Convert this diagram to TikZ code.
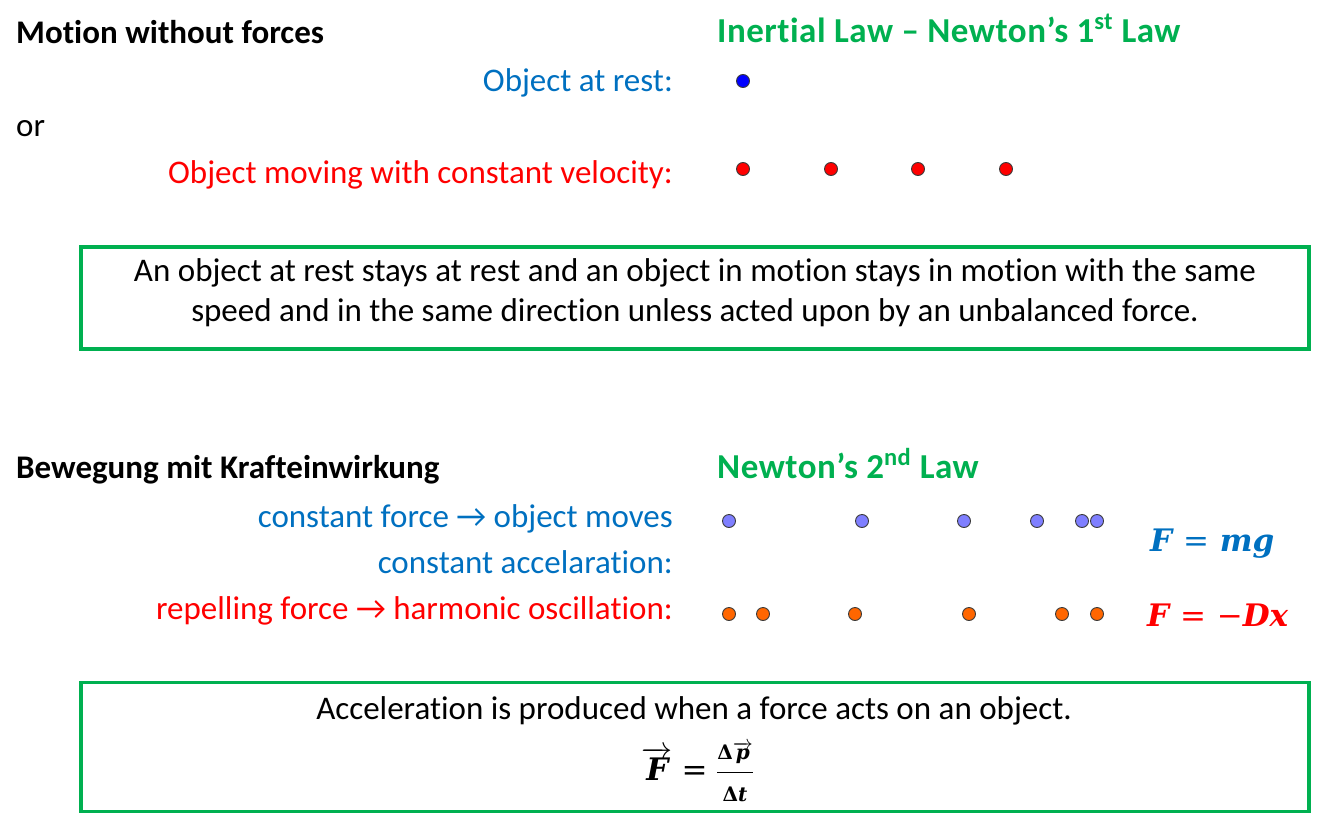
\RequirePackage{fix-cm}
\documentclass[tikz,border=0pt]{standalone}
\usepackage{fontspec}
\setmainfont{Carlito}[Ligatures={NoCommon,NoContextual,NoRequired}, RawFeature={-liga;-clig;-dlig;-calt}]
\newfontfamily\titlefont{Carlito}[Ligatures={NoCommon,NoContextual,NoRequired}, RawFeature={-liga;-clig;-dlig;-calt}, LetterSpace=1.5]
\newfontfamily\mathserif{DejaVu Serif}
\definecolor{lawgreen}{HTML}{00B050}
\definecolor{msblue}{HTML}{0070C0}
\definecolor{msred}{HTML}{FF0000}
\definecolor{dotpurple}{HTML}{7F7FFF}
\definecolor{dotorange}{HTML}{FF6600}
\definecolor{dotblue}{HTML}{0000FF}
\definecolor{dotedge}{HTML}{3A3A3A}
\begin{document}
\begin{tikzpicture}[x=1pt,y=-1pt,
  txt/.style={inner sep=0pt, font=\fontsize{33}{40}\selectfont},
  lefttxt/.style={txt, anchor=base west},
  righttxt/.style={txt, anchor=base east},
  heading/.style={inner sep=0pt, anchor=base west, font=\fontsize{33}{40}\selectfont\bfseries},
  lawtitle/.style={inner sep=0pt, anchor=base west, text=lawgreen, font=\fontsize{35}{42}\selectfont\titlefont\bfseries},
  formula/.style={inner sep=0pt, anchor=base west, font=\fontsize{31}{36}\selectfont\mathserif\bfseries\itshape},
  lawbox/.style={draw=lawgreen, line width=3.3pt, inner sep=0pt},
  ball/.style={circle, draw=dotedge, line width=0.9pt, minimum size=13pt, inner sep=0pt},
  restball/.style={ball, fill=dotblue},
  redball/.style={ball, fill=msred},
  purpleball/.style={ball, fill=dotpurple},
  orangeball/.style={ball, fill=dotorange}]
\useasboundingbox (0,0) rectangle (1317,819);

% ---------- upper part ----------
\node[heading] (h1) at (16,43) {Motion without forces};
\node[lawtitle] (t1) at (717,42) {Inertial Law – Newton’s 1\textsuperscript{st} Law};
\node[righttxt, text=msblue] (rest) at (673,91) {Object at rest:};
\node[lefttxt] (or) at (16,136) {or};
\node[righttxt, text=msred] (moving) at (673,183) {Object moving with constant velocity:};

\node[restball] (b0) at (743,81) {};
\node[redball] (r1) at (743,169) {};
\node[redball] (r2) at (831,169) {};
\node[redball] (r3) at (918,169) {};
\node[redball] (r4) at (1006,169) {};

\node[lawbox, minimum width=1228pt, minimum height=102pt] (box1) at (695,298) {};
\node[txt, align=center] (box1text) at (695,293) {An object at rest stays at rest and an object in motion stays in motion with the same\\speed and in the same direction unless acted upon by an unbalanced force.};

% ---------- lower part ----------
\node[heading] (h2) at (16,478) {Bewegung mit Krafteinwirkung};
\node[lawtitle] (t2) at (717,478) {Newton’s 2\textsuperscript{nd} Law};
\node[righttxt, text=msblue] (cf) at (673,527) {constant force → object moves};
\node[righttxt, text=msblue] (ca) at (673,573) {constant accelaration:};
\node[righttxt, text=msred] (rf) at (673,619) {repelling force → harmonic oscillation:};

\node[purpleball] (p1) at (729,521) {};
\node[purpleball] (p2) at (862,521) {};
\node[purpleball] (p3) at (964,521) {};
\node[purpleball] (p4) at (1037,521) {};
\node[purpleball] (p5) at (1082,521) {};
\node[purpleball] (p6) at (1097,521) {};

\node[orangeball] (o1) at (729,614) {};
\node[orangeball] (o2) at (763,614) {};
\node[orangeball] (o3) at (855,614) {};
\node[orangeball] (o4) at (969,614) {};
\node[orangeball] (o5) at (1062,614) {};
\node[orangeball] (o6) at (1097,614) {};

\node[formula, text=msblue] (fmg) at (1150,551) {F {\mdseries\upshape =} mg};
\node[formula, text=msred] (fdx) at (1147,626) {F {\mdseries\upshape =} {\mdseries\upshape −}Dx};

\node[lawbox, minimum width=1228pt, minimum height=129pt] (box2) at (695,747) {};
\node[txt, anchor=base] (box2text) at (694,719) {Acceleration is produced when a force acts on an object.};
\node[inner sep=0pt, anchor=base, font=\fontsize{31}{36}\selectfont] (newton2) at (698,780)
  {$\displaystyle\overrightarrow{\mbox{\mathserif\bfseries\itshape F}}
    \mathrel{\mbox{\mathserif =}}
    \frac{\mbox{\fontsize{20}{22}\selectfont\mathserif\bfseries Δ$\overrightarrow{\mbox{\itshape p}}$}}
         {\mbox{\fontsize{20}{22}\selectfont\mathserif\bfseries Δ\itshape t}}$};
\end{tikzpicture}
\end{document}
